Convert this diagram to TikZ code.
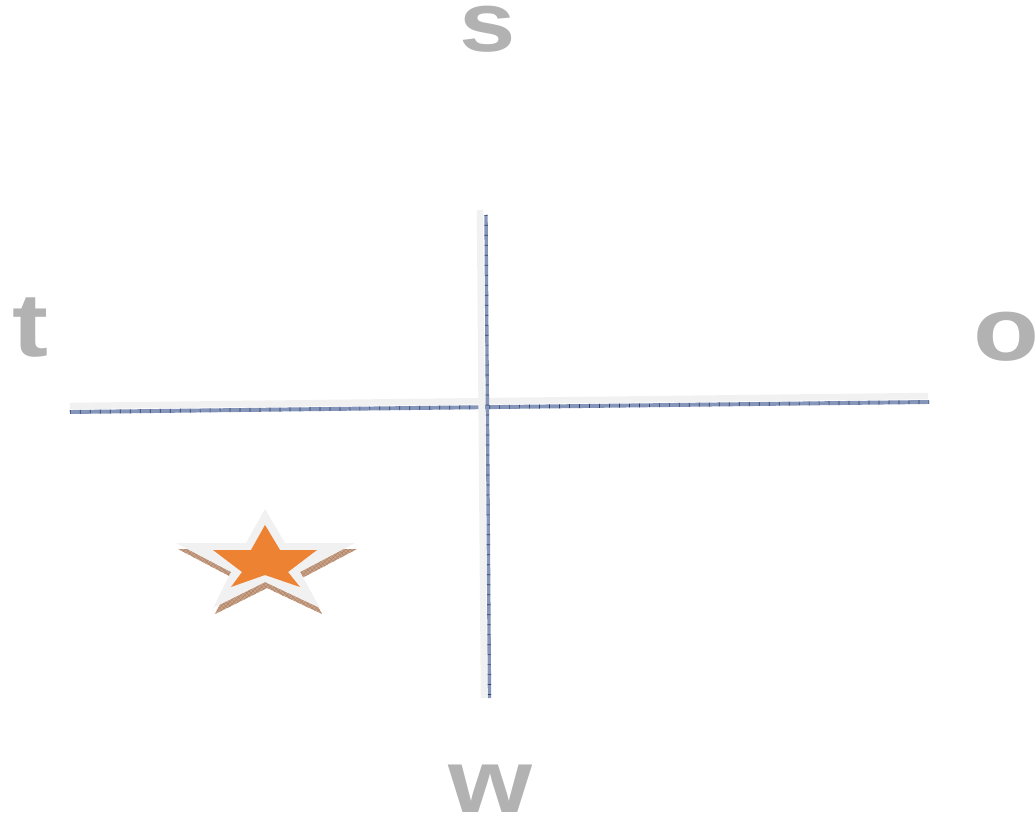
\documentclass[tikz,border=0pt]{standalone}
\usepackage{fontspec}
\usetikzlibrary{patterns}
\newfontfamily\etiq[FakeStretch=1.2]{Liberation Sans}
\definecolor{AxisBlue}{rgb}{0.52,0.59,0.73}
\definecolor{AxisNavy}{rgb}{0.18,0.25,0.42}
\definecolor{SoftGray}{rgb}{0.945,0.945,0.945}
\definecolor{LabelGray}{rgb}{0.70,0.70,0.70}
\definecolor{StarOrange}{rgb}{0.93,0.51,0.20}
\definecolor{ShadowTan}{rgb}{0.80,0.64,0.52}
\definecolor{ShadowBrown}{rgb}{0.55,0.33,0.20}
% contorno de la estrella con borde gris
\newcommand{\estrellagris}{(265,509) -- (285,543) -- (355,543) -- (300,572) -- (320,608) -- (265,582) -- (213,608) -- (231,572) -- (176,543) -- (246,543) -- cycle}
\tikzset{
  lbl/.style={font=\etiq\bfseries\fontsize{64}{64}\selectfont, text=LabelGray, anchor=base, inner sep=0pt},
  ejegris/.style={SoftGray, line width=4.6pt},
  ejeazul/.style={AxisBlue, line width=2.8pt},
  marcas/.style={AxisNavy, line width=2.8pt, dash pattern=on 0.5pt off 6.6pt},
}
\begin{document}
\begin{tikzpicture}[x=0.025cm, y=-0.025cm]
\useasboundingbox (0,0) rectangle (1036,819);

% ejes
\coordinate (hizq) at (70,412);
\coordinate (hder) at (929,402);
\coordinate (varr) at (486,215);
\coordinate (vaba) at (489.5,698);
\draw[ejegris] (70,406) -- (928,396);
\draw[ejeazul] (hizq) -- (hder);
\draw[marcas] (hizq) -- (hder);
\draw[ejegris] (480,210) -- (484,698);
\draw[ejeazul, line width=2.4pt] (varr) -- (vaba);
\draw[marcas, line width=2.4pt] (varr) -- (vaba);

% estrella
\begin{scope}[shift={(2,6)}]
  \fill[ShadowTan] \estrellagris;
  \path[pattern=crosshatch, pattern color=ShadowBrown!70] \estrellagris;
\end{scope}
\fill[SoftGray] \estrellagris;
\fill[StarOrange] (265,525) -- (280,550) -- (317,550) -- (288,572) -- (300,587) -- (265,575)
  -- (231,587) -- (242,572) -- (213,550) -- (251,550) -- cycle;

% etiquetas
\node[lbl, font=\etiq\bfseries\fontsize{60}{60}\selectfont] (s) at (488,52) {s};
\node[lbl] (t) at (30,356) {t};
\node[lbl] (o) at (1006,360) {o};
\node[lbl] (w) at (490,812) {w};

\end{tikzpicture}
\end{document}
